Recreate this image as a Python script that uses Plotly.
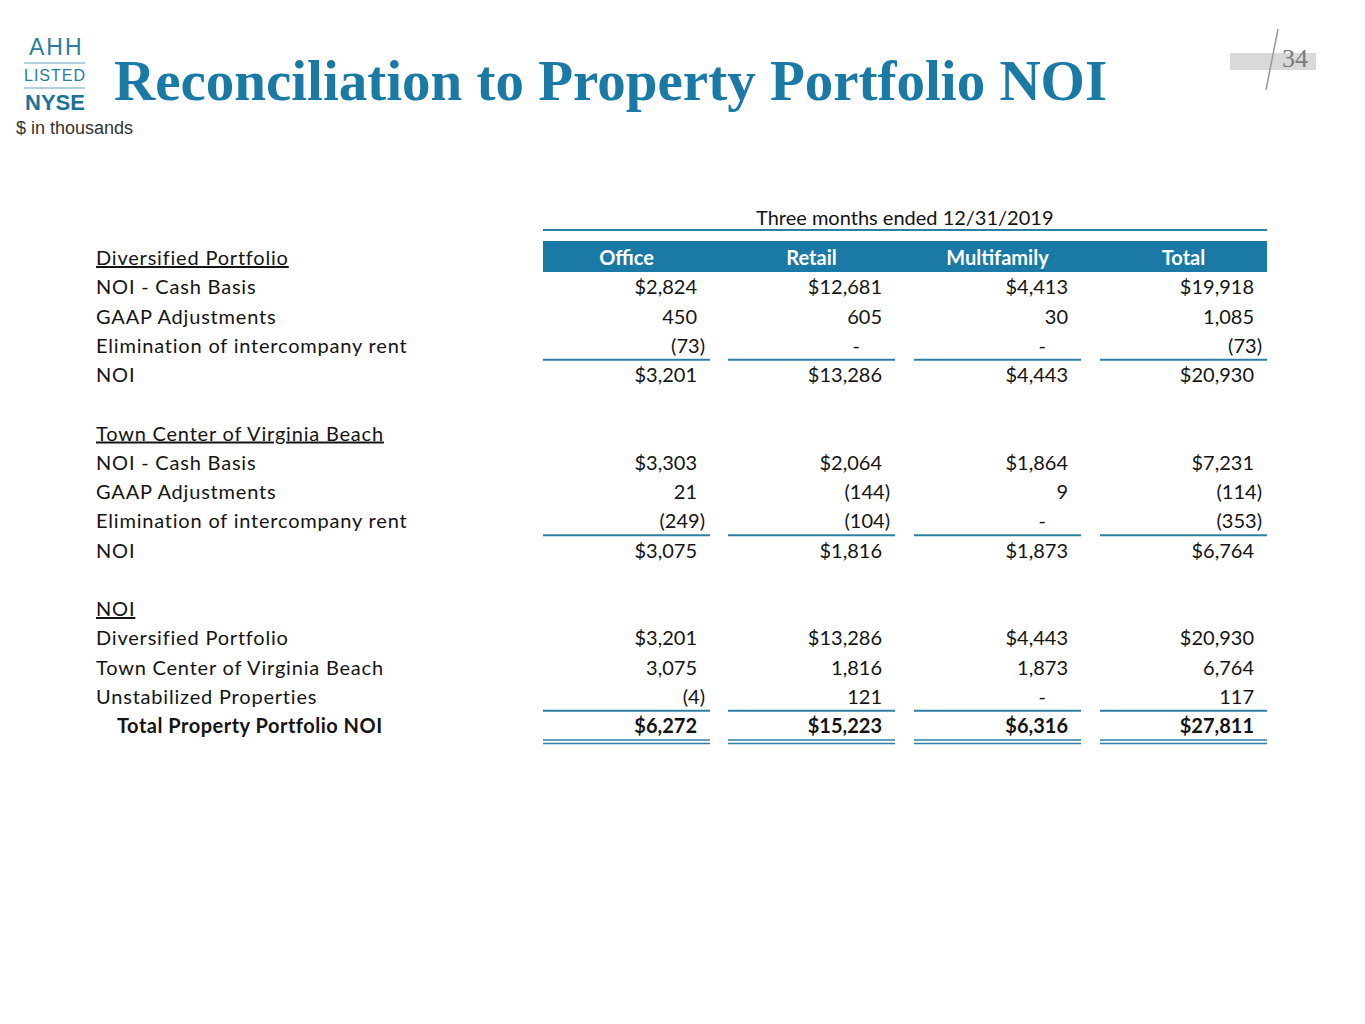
import plotly.graph_objects as go

# rows of the reconciliation table (None = no value on that row)
row_labels = ["Diversified Portfolio", "NOI - Cash Basis", "GAAP Adjustments",
              "Elimination of intercompany rent", "NOI", "",
              "Town Center of Virginia Beach", "NOI - Cash Basis", "GAAP Adjustments",
              "Elimination of intercompany rent", "NOI", "",
              "NOI", "Diversified Portfolio", "Town Center of Virginia Beach",
              "Unstabilized Properties", "Total Property Portfolio NOI"]
underlined_rows = [0, 6, 12]
dollar_rows = [1, 4, 7, 10, 13, 16]
bold_rows = [16]

columns = ["Office", "Retail", "Multifamily", "Total"]
office = [None, 2824, 450, -73, 3201, None, None, 3303, 21, -249, 3075, None, None, 3201, 3075, -4, 6272]
retail = [None, 12681, 605, 0, 13286, None, None, 2064, -144, -104, 1816, None, None, 13286, 1816, 121, 15223]
multifamily = [None, 4413, 30, 0, 4443, None, None, 1864, 9, 0, 1873, None, None, 4443, 1873, 0, 6316]
total = [None, 19918, 1085, -73, 20930, None, None, 7231, -114, -353, 6764, None, None, 20930, 6764, 117, 27811]

period = "Three months ended 12/31/2019"
title = "Reconciliation to Property Portfolio NOI"
subtitle = "$ in thousands"
page = "34"

BLUE = "#1b79a6"
LINE = "#2f7ea3"
TXT = "#141414"
FONT = "Lato"
FS = 20

# pixel layout (the page body has an 8px margin, axes are offset to match screen pixels)
row_y0, row_dy = 258, 29.25
col_left = [543, 728, 914, 1100]
col_w = 167
label_x = 96
text_dy = 2  # text sits slightly lower than the row centre

def ry(i):
    return row_y0 + row_dy * i

fig = go.Figure()

# row labels
for i, lab in enumerate(row_labels):
    if not lab:
        continue
    if i in bold_rows:
        t = "<b><span style='letter-spacing:0.5px'>" + lab + "</span></b>"
    elif i in underlined_rows:
        t = "<span style='text-decoration:underline;letter-spacing:0.8px'>" + lab + "</span>"
    else:
        t = "<span style='letter-spacing:0.8px'>" + lab + "</span>"
    fig.add_trace(go.Scatter(x=[label_x + (21 if i in bold_rows else 0)], y=[ry(i) + text_dy], mode="text",
                             text=[t], textposition="middle right",
                             textfont=dict(family=FONT, size=FS, color=TXT),
                             hoverinfo="skip", showlegend=False))

# numbers
for c, vals in enumerate([office, retail, multifamily, total]):
    right = col_left[c] + col_w
    xs, ys, ts = [], [], []
    for i, v in enumerate(vals):
        if v is None:
            continue
        if v == 0:
            xs.append(right - 35); t = "-"
        elif v < 0:
            xs.append(right - 5); t = "(" + format(-v, ",") + ")"
        else:
            t = ("$" if i in dollar_rows else "") + format(v, ",")
            xs.append(right - 13)
        if i in bold_rows:
            t = "<b>" + t + "</b>"
        ys.append(ry(i) + text_dy); ts.append(t)
    fig.add_trace(go.Scatter(x=xs, y=ys, mode="text", text=ts, textposition="middle left",
                             textfont=dict(family=FONT, size=FS, color=TXT),
                             hoverinfo="skip", showlegend=False))

    # header cell
    fig.add_trace(go.Scatter(x=[col_left[c] + col_w / 2], y=[ry(0) + text_dy], mode="text",
                             text=["<b>" + columns[c] + "</b>"], textposition="middle center",
                             textfont=dict(family=FONT, size=FS, color="white"),
                             hoverinfo="skip", showlegend=False))

    # underlines
    for i in [3, 9, 15]:
        fig.add_shape(type="line", x0=col_left[c], x1=right, y0=ry(i) + 14, y1=ry(i) + 14,
                      line=dict(color=LINE, width=2))
    for off in [14, 17.5]:
        fig.add_shape(type="line", x0=col_left[c], x1=right, y0=ry(16) + off, y1=ry(16) + off,
                      line=dict(color=LINE, width=1.5))

# header band + period line
fig.add_shape(type="rect", x0=543, x1=1267, y0=241, y1=272, fillcolor=BLUE, line_width=0, layer="below")
fig.add_shape(type="line", x0=543, x1=1267, y0=230, y1=230, line=dict(color=LINE, width=2))
fig.add_annotation(x=905, y=217, text=period, showarrow=False,
                   font=dict(family=FONT, size=FS, color=TXT))

# title and logo
fig.add_annotation(x=112, y=80, text="<b>" + title + "</b>", showarrow=False, xanchor="left",
                   font=dict(family="Liberation Serif", size=57, color=BLUE))
fig.add_annotation(x=14, y=128, text=subtitle, showarrow=False, xanchor="left",
                   font=dict(family="Liberation Sans", size=18, color="#333333"))
fig.add_annotation(x=56, y=47, text="<span style='letter-spacing:2px'>AHH</span>", showarrow=False,
                   font=dict(family="Liberation Sans", size=23, color="#2a7d9c"))
fig.add_annotation(x=55, y=75, text="<span style='letter-spacing:1px'>LISTED</span>", showarrow=False,
                   font=dict(family="Liberation Sans", size=16, color="#2a7d9c"))
fig.add_annotation(x=55, y=102, text="<b>NYSE</b>", showarrow=False,
                   font=dict(family="Liberation Sans", size=22, color="#1d7299"))
for yy in [63, 88]:
    fig.add_shape(type="line", x0=24, x1=85, y0=yy, y1=yy, line=dict(color="#9cc1d2", width=1.5))

# page number
fig.add_shape(type="rect", x0=1230, x1=1316, y0=53, y1=70, fillcolor="#d9d9d9", line_width=0)
fig.add_shape(type="line", x0=1278, x1=1266, y0=29, y1=90, line=dict(color="#9a9a9a", width=1.5))
fig.add_annotation(x=1295, y=58, text=page, showarrow=False,
                   font=dict(family="Liberation Serif", size=26, color="#7a7a7a"))

fig.update_xaxes(range=[8, 1373], visible=False, fixedrange=True)
fig.update_yaxes(range=[1032, 8], visible=False, fixedrange=True)
fig.update_layout(width=1365, height=1024, margin=dict(l=0, r=0, t=0, b=0),
                  plot_bgcolor="white", paper_bgcolor="white")

fig.write_html("out.html")
